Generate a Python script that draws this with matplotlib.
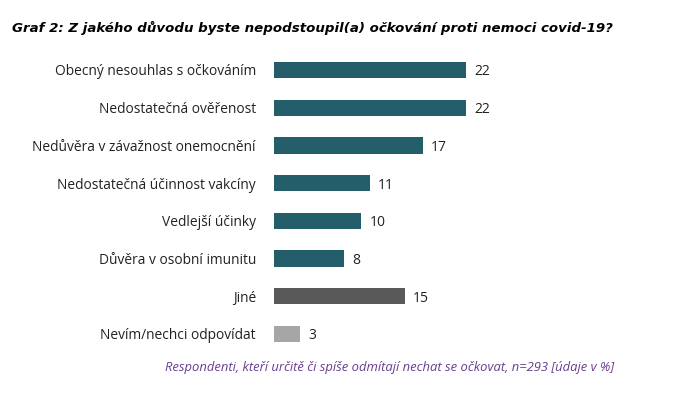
import matplotlib
matplotlib.use("Agg")
import matplotlib.pyplot as plt

categories = ["Obecný nesouhlas s očkováním", "Nedostatečná ověřenost",
              "Nedůvěra v závažnost onemocnění", "Nedostatečná účinnost vakcíny",
              "Vedlejší účinky", "Důvěra v osobní imunitu", "Jiné",
              "Nevím/nechci odpovídat"]
values = [22, 22, 17, 11, 10, 8, 15, 3]
colors = ["#245e6b"] * 6 + ["#595959", "#a6a6a6"]
title = "Graf 2: Z jakého důvodu byste nepodstoupil(a) očkování proti nemoci covid-19?"
footnote = "Respondenti, kteří určitě či spíše odmítají nechat se očkovat, n=293 [údaje v %]"

fig = plt.figure(figsize=(6.74, 4.05), dpi=100)
ax = fig.add_axes([0.4065, 0.1288, 0.3895, 0.745])
y = list(range(len(categories)))
ax.barh(y, values, height=0.43, color=colors)
ax.set_ylim(len(categories) - 0.5, -0.5)
ax.set_xlim(0, 30)
for s in ax.spines.values():
    s.set_visible(False)
ax.set_xticks([])
ax.set_yticks(y)
ax.set_yticklabels(categories, fontfamily="Open Sans", fontsize=9.9, color="#222222")
ax.tick_params(axis="y", length=0, pad=13)
for yi, v in zip(y, values):
    ax.text(v + 0.9, yi + 0.05, str(v), va="center", ha="left", fontfamily="Open Sans",
            fontsize=10, color="#222222")

fig.text(12 / 674, 1 - 28 / 405, title, fontfamily="DejaVu Sans", fontweight="bold",
         fontstyle="italic", fontsize=9.6, va="center", ha="left", color="black")
fig.text(614 / 674, 1 - 368 / 405, footnote, fontfamily="Open Sans", fontstyle="italic",
         fontsize=9.4, va="center", ha="right", color="#6a3d8f")
fig.savefig("out.png", dpi=100)
